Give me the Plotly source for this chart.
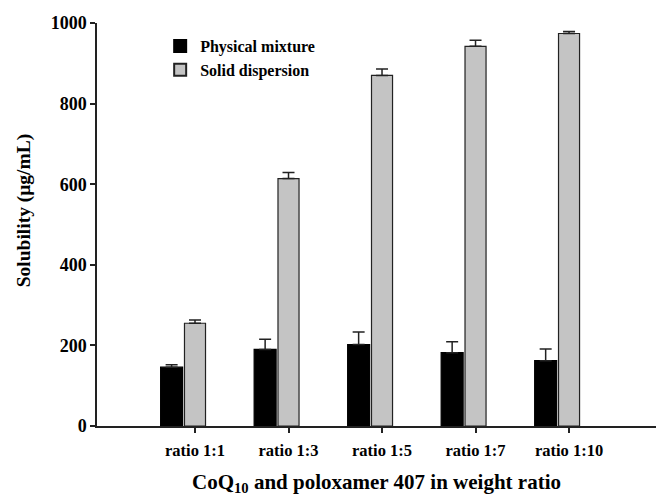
import plotly.graph_objects as go

categories = ["ratio 1:1", "ratio 1:3", "ratio 1:5", "ratio 1:7", "ratio 1:10"]
physical_mixture = [146, 190, 202, 182, 162]
physical_err = [6, 25, 31, 27, 29]
solid_dispersion = [255, 614, 870, 942, 974]
solid_err = [8, 15, 16, 15, 5]
y_ticks = [0, 200, 400, 600, 800, 1000]

FONT = "Liberation Serif"
GREY_W = 0.225
BLACK_W = 0.235
SHIFT = 0.25

fig = go.Figure()
fig.add_trace(go.Bar(
    name="Physical mixture", x=categories, y=physical_mixture,
    width=BLACK_W, offset=-SHIFT - BLACK_W / 2,
    marker=dict(color="black", line=dict(color="black", width=1.2)),
    error_y=dict(type="data", array=physical_err, arrayminus=[0] * 5, symmetric=False,
                 color="#222", thickness=1.5, width=6),
))
fig.add_trace(go.Bar(
    name="Solid dispersion", x=categories, y=solid_dispersion,
    width=GREY_W, offset=-GREY_W / 2,
    marker=dict(color="#c4c4c4", line=dict(color="#222", width=1.2)),
    error_y=dict(type="data", array=solid_err, arrayminus=[0] * 5, symmetric=False,
                 color="#222", thickness=1.5, width=6),
))

fig.update_layout(
    width=657, height=496,
    margin=dict(l=97, r=1, t=23, b=70),
    paper_bgcolor="white", plot_bgcolor="white",
    barmode="overlay",
    font=dict(family=FONT, color="black", size=16, weight="bold"),
    legend=dict(x=0.113, y=0.985, xanchor="left", yanchor="top",
                font=dict(family=FONT, size=16, weight="bold"),
                bgcolor="rgba(0,0,0,0)", tracegroupgap=0, itemsizing="constant"),
    showlegend=True,
    annotations=[dict(
        text="Solubility (μg/mL)", textangle=-90,
        xref="paper", yref="paper", x=-0.129, y=0.535,
        xanchor="center", yanchor="middle", showarrow=False,
        font=dict(family=FONT, size=19.5, weight="bold", color="black"),
    )],
)
fig.update_xaxes(
    type="category", range=[-1.048, 4.93],
    showline=True, linecolor="#222", linewidth=1.5,
    ticks="outside", ticklen=5, tickwidth=1.5, tickcolor="#222",
    ticklabelstandoff=3,
    tickfont=dict(family=FONT, size=16.5, weight="bold"),
    showgrid=False, zeroline=False,
    title=dict(text="CoQ<sub>10</sub> and poloxamer 407 in weight ratio",
               font=dict(family=FONT, size=21, weight="bold"), standoff=21),
)
fig.update_yaxes(
    range=[0, 1000], tickvals=y_ticks,
    showline=True, linecolor="#222", linewidth=1.5,
    ticks="outside", ticklen=5, tickwidth=1.5, tickcolor="#222",
    tickfont=dict(family=FONT, size=18, weight="bold"),
    showgrid=False, zeroline=False,
)

fig.write_html("out.html")
